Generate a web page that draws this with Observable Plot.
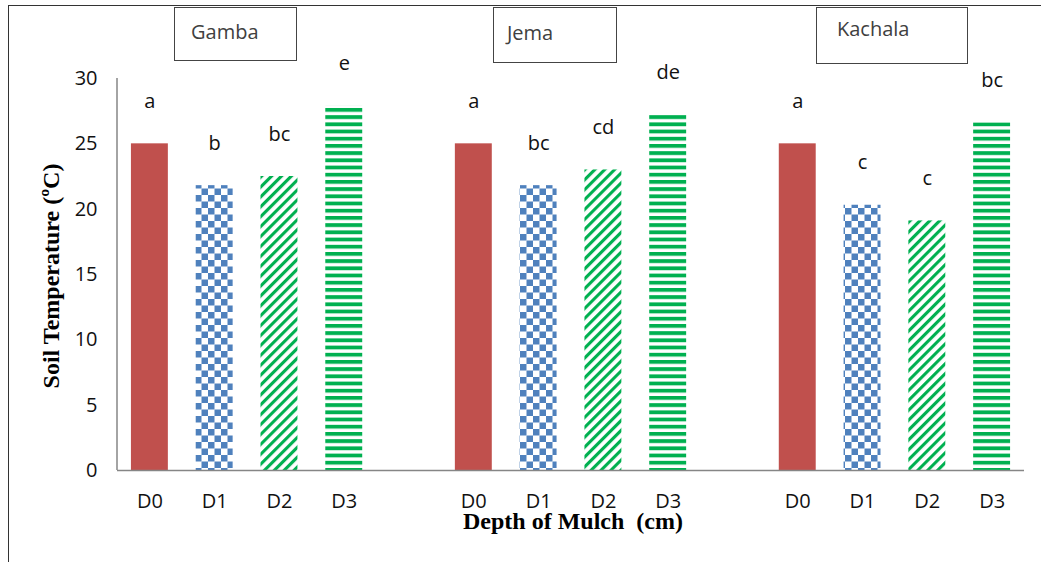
<!DOCTYPE html>
<html>
<head>
<meta charset="utf-8">
<script src="https://cdn.jsdelivr.net/npm/d3@7"></script>
<script src="https://cdn.jsdelivr.net/npm/@observablehq/plot@0.6"></script>
<style>
  body { margin: 0; background: #fff; }
  #wrap { position: relative; width: 1041px; height: 562px; overflow: hidden; background: #fff; }
  #wrap svg { position: absolute; left: 0; top: 0; }
  #frame { position: absolute; left: 8px; top: 5px; width: 1033px; height: 557px; box-sizing: border-box;
           border-top: 1.5px solid #333; border-left: 1.5px solid #333; }
  .site { position: absolute; box-sizing: border-box; border: 1.5px solid #444; background: #fff;
          font-family: "Open Sans", sans-serif; font-size: 20px; color: #404040; line-height: 1; }
  .site span { position: absolute; }
  .ytitle { position: absolute; font-family: "Liberation Serif", serif; font-weight: bold; font-size: 24px;
            color: #000; white-space: pre; transform: translate(-50%, -50%) rotate(-90deg); line-height: 1; }
  .xtitle { position: absolute; font-family: "Liberation Serif", serif; font-weight: bold; font-size: 24px;
            color: #000; white-space: pre; transform: translate(-50%, -50%); line-height: 1; }
</style>
</head>
<body>
<div id="wrap">
  <div id="frame"></div>
</div>
<script>
// ---- data ----
const sites = ["Gamba", "Jema", "Kachala"];
const depths = ["D0", "D1", "D2", "D3"];
const gambaTemp = [25.0, 21.8, 22.5, 27.9];
const jemaTemp = [25.0, 21.8, 23.0, 27.2];
const kachalaTemp = [25.0, 20.3, 19.1, 26.6];
const gambaLetters = ["a", "b", "bc", "e"];
const jemaLetters = ["a", "bc", "cd", "de"];
const kachalaLetters = ["a", "c", "c", "bc"];
const yTicks = [0, 5, 10, 15, 20, 25, 30];
const yTitle = "Soil Temperature (ºC)";
const xTitle = "Depth of Mulch  (cm)";

// ---- build table ----
const temps = [gambaTemp, jemaTemp, kachalaTemp];
const letters = [gambaLetters, jemaLetters, kachalaLetters];
const keys = [];
sites.forEach((s, i) => {
  if (i > 0) keys.push("gap" + i);
  depths.forEach(d => keys.push(s + "|" + d));
});
const rows = sites.flatMap((s, i) => depths.map((d, j) => ({
  key: s + "|" + d, site: s, depth: d, temp: temps[i][j], letter: letters[i][j]
})));

const fills = ["#C0504D", "url(#pChk)", "url(#pDiag)", "url(#pHor)"];

function defsMark() {
  const g = document.createElementNS("http://www.w3.org/2000/svg", "g");
  g.innerHTML = `
  <defs>
    <pattern id="pChk" patternUnits="userSpaceOnUse" width="13" height="13">
      <rect width="13" height="13" fill="#fff"/>
      <rect x="0" y="0" width="6.5" height="6.5" fill="#4F81BD"/>
      <rect x="6.5" y="6.5" width="6.5" height="6.5" fill="#4F81BD"/>
    </pattern>
    <pattern id="pDiag" patternUnits="userSpaceOnUse" width="7" height="7" patternTransform="rotate(-45)">
      <rect width="7" height="7" fill="#fff"/>
      <rect x="0" y="0" width="7" height="3.1" fill="#00B050"/>
    </pattern>
    <pattern id="pHor" patternUnits="userSpaceOnUse" width="10" height="7.2">
      <rect width="10" height="7.2" fill="#fff"/>
      <rect x="0" y="0" width="10" height="3.8" fill="#00B050"/>
    </pattern>
  </defs>`;
  return g;
}

function yAxisLine(index, scales, values, dims) {
  const l = document.createElementNS("http://www.w3.org/2000/svg", "line");
  const x = dims.marginLeft;
  l.setAttribute("x1", x); l.setAttribute("x2", x);
  l.setAttribute("y1", dims.marginTop); l.setAttribute("y2", dims.height - dims.marginBottom);
  l.setAttribute("stroke", "#868686"); l.setAttribute("stroke-width", 1.5);
  return l;
}

const chart = Plot.plot({
  width: 1041,
  height: 562,
  marginLeft: 117,
  marginRight: 17,
  marginTop: 78,
  marginBottom: 92,
  style: { fontFamily: "'Open Sans', sans-serif", fontSize: "20px", color: "#111", background: "transparent" },
  x: {
    domain: keys, paddingInner: 0.43, paddingOuter: 0.215, round: false, label: null, tickSize: 0, tickPadding: 23,
    tickFormat: k => k.startsWith("gap") ? "" : k.split("|")[1]
  },
  y: {
    domain: [0, 30], ticks: yTicks, label: null, tickSize: 0, tickPadding: 20,
    tickFormat: d => String(d)
  },
  marks: [
    defsMark,
    ...depths.map((d, j) => Plot.barY(rows.filter(r => r.depth === d), { x: "key", y: "temp", fill: fills[j] })),
    Plot.ruleY([0], { stroke: "#868686", strokeWidth: 1.5 }),
    yAxisLine,
    Plot.text(rows, { x: "key", y: "temp", text: "letter", lineAnchor: "bottom", dy: -36, fontSize: 20, fill: "#111" })
  ]
});

const wrap = document.getElementById("wrap");
wrap.insertBefore(chart, wrap.firstChild);

// site boxes
const boxes = [
  { name: sites[0], left: 174, top: 7, w: 123, h: 54, tx: 16, ty: 14 },
  { name: sites[1], left: 493, top: 7, w: 124, h: 56, tx: 13, ty: 15 },
  { name: sites[2], left: 816, top: 7, w: 152, h: 57, tx: 20, ty: 11 }
];
boxes.forEach(b => {
  const d = document.createElement("div");
  d.className = "site";
  Object.assign(d.style, { left: b.left + "px", top: b.top + "px", width: b.w + "px", height: b.h + "px" });
  const s = document.createElement("span");
  s.textContent = b.name;
  Object.assign(s.style, { left: b.tx + "px", top: b.ty + "px" });
  d.appendChild(s);
  wrap.appendChild(d);
});

const yt = document.createElement("div");
yt.className = "ytitle"; yt.textContent = yTitle;
Object.assign(yt.style, { left: "51px", top: "276px" });
wrap.appendChild(yt);

const xt = document.createElement("div");
xt.className = "xtitle"; xt.textContent = xTitle;
Object.assign(xt.style, { left: "573px", top: "521px" });
wrap.appendChild(xt);
</script>
</body>
</html>
